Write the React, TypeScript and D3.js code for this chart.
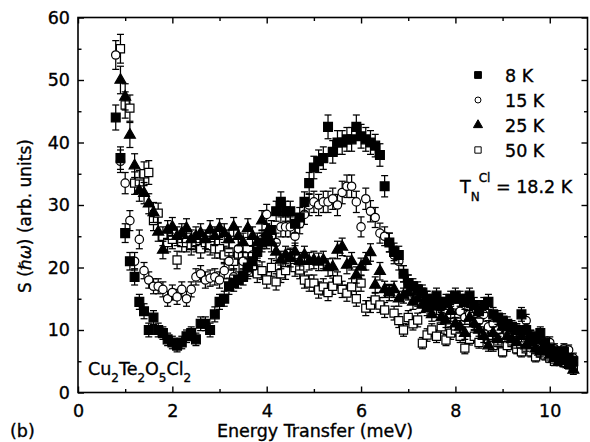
import React, { useEffect, useRef } from "react";
import * as d3 from "d3";

// energy transfer grid (meV)
const energy = [
  0.8, 0.9, 1.0, 1.1, 1.2, 1.3, 1.4, 1.5, 1.6, 1.7,
  1.8, 1.9, 2.0, 2.1, 2.2, 2.3, 2.4, 2.5, 2.6, 2.7,
  2.8, 2.9, 3.0, 3.1, 3.2, 3.3, 3.4, 3.5, 3.6, 3.7,
  3.8, 3.9, 4.0, 4.1, 4.2, 4.3, 4.4, 4.5, 4.6, 4.7,
  4.8, 4.9, 5.0, 5.1, 5.2, 5.3, 5.4, 5.5, 5.6, 5.7,
  5.8, 5.9, 6.0, 6.1, 6.2, 6.3, 6.4, 6.5, 6.6, 6.7,
  6.8, 6.9, 7.0, 7.1, 7.2, 7.3, 7.4, 7.5, 7.6, 7.7,
  7.8, 7.9, 8.0, 8.1, 8.2, 8.3, 8.4, 8.5, 8.6, 8.7,
  8.8, 8.9, 9.0, 9.1, 9.2, 9.3, 9.4, 9.5, 9.6, 9.7,
  9.8, 9.9, 10.0, 10.1, 10.2, 10.3, 10.4, 10.5,
];

const s8K = [
  44, 37.5, 25.5, 21, 18.5, 14.5, 13, 10, 12, 10,
  9.5, 8.5, 8, 7.5, 8, 9, 9.5, 8.5, 11, 11,
  10, 12.5, 14.5, 15, 17, 17.5, 18, 18.5, 20, 21,
  22.5, 24, 24.5, 26, 29, 30.5, 29, 29, 27, 28,
  30.5, 33.5, 36, 37, 37.5, 42.5, 38.5, 40, 40, 40.5,
  40.5, 42.5, 41, 40.5, 40, 39.5, 38, 33, 24, 22.5,
  22, 19, 17.5, 17, 16.5, 16, 15, 14.5, 15.5, 14,
  14.5, 15, 15.5, 15, 14.5, 15.5, 14, 13, 14, 14.5,
  12.5, 12, 11.5, 11, 10.5, 10, 12.5, 10, 9, 8.5,
  9.5, 8, 7, 6.5, 6, 6.5, 5.5, 5,
];
const e8K = [
  2.0, 1.8, 1.5, 1.4, 1.3, 1.2, 1.2, 1.1, 1.1, 1.1,
  1.0, 1.0, 1.0, 1.0, 1.0, 1.0, 1.0, 1.0, 1.1, 1.1,
  1.1, 1.2, 1.2, 1.2, 1.3, 1.3, 1.3, 1.3, 1.4, 1.4,
  1.4, 1.5, 1.5, 1.5, 1.6, 1.6, 1.6, 1.6, 1.5, 1.6,
  1.6, 1.7, 1.8, 1.8, 1.8, 1.9, 1.8, 1.9, 1.9, 1.9,
  1.9, 1.9, 1.9, 1.9, 1.9, 1.8, 1.8, 1.7, 1.5, 1.4,
  1.4, 1.3, 1.3, 1.2, 1.2, 1.2, 1.2, 1.2, 1.2, 1.2,
  1.2, 1.2, 1.2, 1.2, 1.2, 1.2, 1.2, 1.1, 1.2, 1.2,
  1.1, 1.1, 1.1, 1.1, 1.0, 1.0, 1.1, 1.0, 1.0, 1.0,
  1.0, 0.9, 0.9, 0.9, 0.8, 0.9, 0.8, 0.8,
];

const s15K = [
  54, 37, 33.5, 27.5, 21, 24.5, 19.5, 18, 17, 17,
  16.5, 15, 16, 15.3, 16.5, 15, 16.5, 18.5, 19, 18,
  18.3, 18.5, 18, 19.5, 21, 18.5, 23, 21, 19.5, 22,
  23, 24.5, 28.5, 25, 24, 26.5, 26.5, 26.5, 25, 27,
  28.5, 30, 30.5, 30, 30.5, 30.5, 31, 30, 32, 33,
  33, 30.5, 26.5, 31, 29, 28, 25.5, 25, 24, 22,
  21, 19, 17.5, 16.5, 16, 15.5, 15, 14, 14.5, 13.5,
  13, 12.5, 14, 13, 12, 12.5, 11, 11.5, 12.5, 10.5,
  11, 10, 10.5, 9.5, 9, 10, 9.5, 11.5, 9, 8,
  8.7, 7.5, 8, 7, 6.5, 7, 6.8, 5.5,
];
const e15K = [
  2.3, 1.8, 1.7, 1.6, 1.4, 1.5, 1.3, 1.3, 1.2, 1.2,
  1.2, 1.2, 1.2, 1.2, 1.2, 1.2, 1.2, 1.3, 1.3, 1.3,
  1.3, 1.3, 1.3, 1.3, 1.4, 1.3, 1.5, 1.4, 1.3, 1.4,
  1.5, 1.5, 1.6, 1.5, 1.5, 1.6, 1.6, 1.6, 1.5, 1.6,
  1.6, 1.7, 1.7, 1.7, 1.7, 1.7, 1.7, 1.7, 1.8, 1.8,
  1.8, 1.7, 1.6, 1.7, 1.7, 1.6, 1.6, 1.5, 1.5, 1.4,
  1.4, 1.3, 1.3, 1.2, 1.2, 1.2, 1.2, 1.2, 1.2, 1.1,
  1.1, 1.1, 1.2, 1.1, 1.1, 1.1, 1.0, 1.0, 1.1, 1.0,
  1.0, 1.0, 1.0, 1.0, 0.9, 1.0, 0.9, 1.0, 0.9, 0.9,
  0.9, 0.9, 0.9, 0.8, 0.8, 0.8, 0.8, 0.8,
];

const s25K = [
  null, 50, 47.3, 41.2, 36.3, 32.3, 31.9, 30.2, 28.8, 25.7,
  22.8, 26, 26.5, 25, 25.5, 26.3, 24.5, 25, 25.5, 24.5,
  26, 25, 26.3, 25.5, 24.5, 26.5, 25, 24, 26.3, 25,
  24, 27.5, 25.5, 24, 22.5, 21.2, 22, 21.5, 22.5, 21,
  22, 21, 21.2, 20.9, 21.2, 20, 20.1, 22.8, 23.3, 20.4,
  21, 18.8, 20.1, 21, 22.4, 17.2, 19.4, 16.5, 16, 16.5,
  15, 15.5, 16, 14.5, 15, 14, 13.5, 12.5, 13.7, 12,
  11.5, 13, 11, 10.5, 9.5, 12, 11, 10, 9, 7.5,
  9.5, 8.5, 10.5, 9, 8.5, 8, 9, 7.5, 8, 7,
  6.5, 7, 6, 5.5, 5, 5.5, 4.5, 3.6,
];
const e25K = [
  0, 2.2, 2.1, 2.0, 1.9, 1.7, 1.7, 1.6, 1.6, 1.5,
  1.4, 1.5, 1.5, 1.5, 1.5, 1.5, 1.5, 1.5, 1.5, 1.5,
  1.5, 1.5, 1.5, 1.5, 1.5, 1.5, 1.5, 1.5, 1.5, 1.5,
  1.5, 1.6, 1.5, 1.5, 1.4, 1.4, 1.4, 1.4, 1.4, 1.4,
  1.4, 1.4, 1.4, 1.4, 1.4, 1.4, 1.4, 1.4, 1.4, 1.4,
  1.4, 1.3, 1.4, 1.4, 1.4, 1.3, 1.4, 1.3, 1.3, 1.3,
  1.2, 1.2, 1.2, 1.2, 1.2, 1.2, 1.2, 1.1, 1.2, 1.1,
  1.1, 1.1, 1.0, 1.0, 1.0, 1.1, 1.0, 1.0, 1.0, 0.9,
  1.0, 0.9, 1.0, 0.9, 0.9, 0.9, 0.9, 0.9, 0.9, 0.8,
  0.8, 0.8, 0.8, 0.8, 0.7, 0.8, 0.7, 0.7,
];

const s50K = [
  null, 55, 46, 45.5, 33.5, 33.7, 35, 35.2, 27.5, 28.7,
  25, 24, 24.5, 21.2, 24, 24, 23.5, 24, 23, 24,
  23.5, 23, 23, 22, 22.5, 21, 22, 20, 21, 20,
  19, 19.5, 18, 20, 17.7, 19, 19.5, 21.7, 20, 19.6,
  18, 17.5, 17.5, 16.4, 16.9, 16, 17, 18, 16.5, 15.9,
  16.9, 15, 17.5, 13.5, 14, 14.8, 14, 13.2, 15.9, 12.7,
  11.5, 10, 12, 11, 11.6, 7.9, 9.2, 10, 9, 10.5,
  8.4, 9.5, 10, 9, 7.1, 8.5, 9, 8, 9.5, 8.5,
  7.5, 8, 6.5, 7.5, 8, 7, 6.5, 7, 6.5, 5.7,
  6.3, 6, 5.5, 5, 5.5, 4.8, 4.5, 4.2,
];
const e50K = [
  0, 2.3, 2.1, 2.1, 1.8, 1.8, 1.9, 1.9, 1.6, 1.6,
  1.5, 1.5, 1.5, 1.4, 1.5, 1.5, 1.5, 1.5, 1.5, 1.5,
  1.5, 1.5, 1.5, 1.4, 1.5, 1.4, 1.4, 1.4, 1.4, 1.4,
  1.4, 1.4, 1.3, 1.4, 1.3, 1.4, 1.4, 1.4, 1.4, 1.4,
  1.3, 1.3, 1.3, 1.3, 1.3, 1.3, 1.3, 1.3, 1.3, 1.3,
  1.3, 1.2, 1.3, 1.2, 1.2, 1.2, 1.2, 1.2, 1.2, 1.1,
  1.1, 1.0, 1.1, 1.0, 1.1, 0.9, 1.0, 1.0, 1.0, 1.0,
  0.9, 1.0, 1.0, 1.0, 0.9, 0.9, 1.0, 0.9, 1.0, 0.9,
  0.9, 0.9, 0.8, 0.9, 0.9, 0.8, 0.8, 0.8, 0.8, 0.8,
  0.8, 0.8, 0.7, 0.7, 0.7, 0.7, 0.7, 0.7,
];

const legendLabels = ["8 K", "15 K", "25 K", "50 K"];
const xMajor = [0, 2, 4, 6, 8, 10];
const xMinor = [1, 3, 5, 7, 9];
const yMajor = [0, 10, 20, 30, 40, 50, 60];
const yMinor = [5, 15, 25, 35, 45, 55];

const FONT = "'DejaVu Sans', 'Liberation Sans', sans-serif";

const App = () => {
  const svgRef = useRef<SVGSVGElement>(null);

  useEffect(() => {
    const svg = d3.select(svgRef.current);
    svg.selectAll("*").remove();

    const x = d3.scaleLinear().domain([0, 10.8]).range([78, 587.5]);
    const y = d3.scaleLinear().domain([0, 60]).range([392.5, 17.5]);

    svg.append("rect").attr("width", 590).attr("height", 442).attr("fill", "#fff");

    // scanned print looks a bit heavy, so give text a hairline stroke
    const ink = (t: any) => t.attr("fill", "#000").attr("stroke", "#000").attr("stroke-width", 0.35);

    const styleAxis = (g: any) => {
      g.select(".domain").remove();
      g.selectAll("line").attr("stroke", "#000").attr("stroke-width", 1.4);
      g.selectAll("text")
        .attr("font-family", FONT)
        .attr("font-size", 17.5)
        .call(ink);
    };
    const none = () => "";

    // bottom / top
    svg.append("g").attr("transform", `translate(0,${y(0)})`)
      .call(d3.axisBottom(x).tickValues(xMajor).tickSize(-6).tickPadding(12).tickFormat(d3.format("d")))
      .call(styleAxis);
    svg.append("g").attr("transform", `translate(0,${y(0)})`)
      .call(d3.axisBottom(x).tickValues(xMinor).tickSize(-3.5).tickFormat(none))
      .call(styleAxis);
    svg.append("g").attr("transform", `translate(0,${y(60)})`)
      .call(d3.axisTop(x).tickValues(xMajor).tickSize(-6).tickFormat(none))
      .call(styleAxis);
    svg.append("g").attr("transform", `translate(0,${y(60)})`)
      .call(d3.axisTop(x).tickValues(xMinor).tickSize(-3.5).tickFormat(none))
      .call(styleAxis);

    // left / right
    svg.append("g").attr("transform", `translate(${x(0)},0)`)
      .call(d3.axisLeft(y).tickValues(yMajor).tickSize(-6).tickPadding(8).tickFormat(d3.format("d")))
      .call(styleAxis);
    svg.append("g").attr("transform", `translate(${x(0)},0)`)
      .call(d3.axisLeft(y).tickValues(yMinor).tickSize(-3.5).tickFormat(none))
      .call(styleAxis);
    svg.append("g").attr("transform", `translate(${x(10.8)},0)`)
      .call(d3.axisRight(y).tickValues(yMajor).tickSize(-6).tickFormat(none))
      .call(styleAxis);
    svg.append("g").attr("transform", `translate(${x(10.8)},0)`)
      .call(d3.axisRight(y).tickValues(yMinor).tickSize(-3.5).tickFormat(none))
      .call(styleAxis);

    svg.append("rect")
      .attr("x", x(0)).attr("y", y(60))
      .attr("width", x(10.8) - x(0)).attr("height", y(0) - y(60))
      .attr("fill", "none").attr("stroke", "#000").attr("stroke-width", 1.6);

    // series, drawn back to front
    const series = [
      { vals: s50K, errs: e50K, type: d3.symbolSquare, size: 66, fill: "#fff" },
      { vals: s15K, errs: e15K, type: d3.symbolCircle, size: 55, fill: "#fff" },
      { vals: s25K, errs: e25K, type: d3.symbolTriangle, size: 52, fill: "#000" },
      { vals: s8K, errs: e8K, type: d3.symbolSquare, size: 78, fill: "#000" },
    ];

    series.forEach((s) => {
      const pts = energy
        .map((e, i) => ({ e, v: s.vals[i], err: s.errs[i] }))
        .filter((d) => d.v != null) as { e: number; v: number; err: number }[];
      const g = svg.append("g");
      const bars = g.selectAll("g.bar").data(pts).join("g").attr("class", "bar")
        .attr("stroke", "#000").attr("stroke-width", 1.25);
      bars.append("line")
        .attr("x1", (d) => x(d.e)).attr("x2", (d) => x(d.e))
        .attr("y1", (d) => y(d.v - d.err)).attr("y2", (d) => y(d.v + d.err));
      bars.append("line")
        .attr("x1", (d) => x(d.e) - 3.5).attr("x2", (d) => x(d.e) + 3.5)
        .attr("y1", (d) => y(d.v + d.err)).attr("y2", (d) => y(d.v + d.err));
      bars.append("line")
        .attr("x1", (d) => x(d.e) - 3.5).attr("x2", (d) => x(d.e) + 3.5)
        .attr("y1", (d) => y(d.v - d.err)).attr("y2", (d) => y(d.v - d.err));
      g.selectAll("path.pt").data(pts).join("path").attr("class", "pt")
        .attr("d", d3.symbol().type(s.type).size(s.size)())
        .attr("transform", (d) => `translate(${x(d.e)},${y(d.v)})`)
        .attr("fill", s.fill).attr("stroke", "#000").attr("stroke-width", 1.2);
    });

    // legend
    const legendSymbols = [
      { type: d3.symbolSquare, size: 46, fill: "#000" },
      { type: d3.symbolCircle, size: 28, fill: "#fff" },
      { type: d3.symbolTriangle, size: 36, fill: "#000" },
      { type: d3.symbolSquare, size: 40, fill: "#fff" },
    ];
    legendLabels.forEach((label, i) => {
      const cy = 75 + i * 25;
      svg.append("path")
        .attr("d", d3.symbol().type(legendSymbols[i].type).size(legendSymbols[i].size)())
        .attr("transform", `translate(478,${cy})`)
        .attr("fill", legendSymbols[i].fill).attr("stroke", "#000").attr("stroke-width", 1);
      svg.append("text")
        .attr("x", 505).attr("y", cy + 6.5)
        .attr("font-family", FONT).attr("font-size", 17.5)
        .call(ink)
        .text(label);
    });

    // T_N^Cl annotation
    const tn = svg.append("text").attr("x", 460).attr("y", 193)
      .attr("font-family", FONT).attr("font-size", 17.5).call(ink);
    tn.append("tspan").text("T");
    tn.append("tspan").attr("font-size", 12).attr("dy", 8).text("N");
    tn.append("tspan").attr("font-size", 12).attr("dx", -1).attr("dy", -19).text("Cl");
    tn.append("tspan").attr("dy", 11).text(" = 18.2 K");

    // compound label
    const cu = svg.append("text").attr("x", 88).attr("y", 375)
      .attr("font-family", FONT).attr("font-size", 17.5).call(ink);
    const parts: [string, boolean][] = [
      ["Cu", false], ["2", true], ["Te", false], ["2", true],
      ["O", false], ["5", true], ["Cl", false], ["2", true],
    ];
    parts.forEach(([t, sub]) => {
      cu.append("tspan")
        .attr("font-size", sub ? 12 : 17.5)
        .attr("dy", sub ? 7 : -7)
        .text(t);
    });
    cu.select("tspan").attr("dy", 0);

    // axis titles
    svg.append("text")
      .attr("x", 315).attr("y", 437).attr("text-anchor", "middle")
      .attr("font-family", FONT).attr("font-size", 17.5).call(ink)
      .text("Energy Transfer (meV)");
    svg.append("text")
      .attr("x", 10).attr("y", 437)
      .attr("font-family", FONT).attr("font-size", 17.5).call(ink)
      .text("(b)");

    const yl = svg.append("text")
      .attr("transform", "translate(31,216) rotate(-90)")
      .attr("text-anchor", "middle")
      .attr("font-family", FONT).attr("font-size", 17).call(ink);
    yl.append("tspan").text("S (");
    yl.append("tspan").attr("font-style", "italic").text("\u210F\u03C9");
    yl.append("tspan").text(") (arb. units)");
  }, []);

  return (
    <svg
      ref={svgRef}
      width={590}
      height={442}
      style={{ position: "absolute", left: 0, top: 0, display: "block" }}
    />
  );
};

export default App;
